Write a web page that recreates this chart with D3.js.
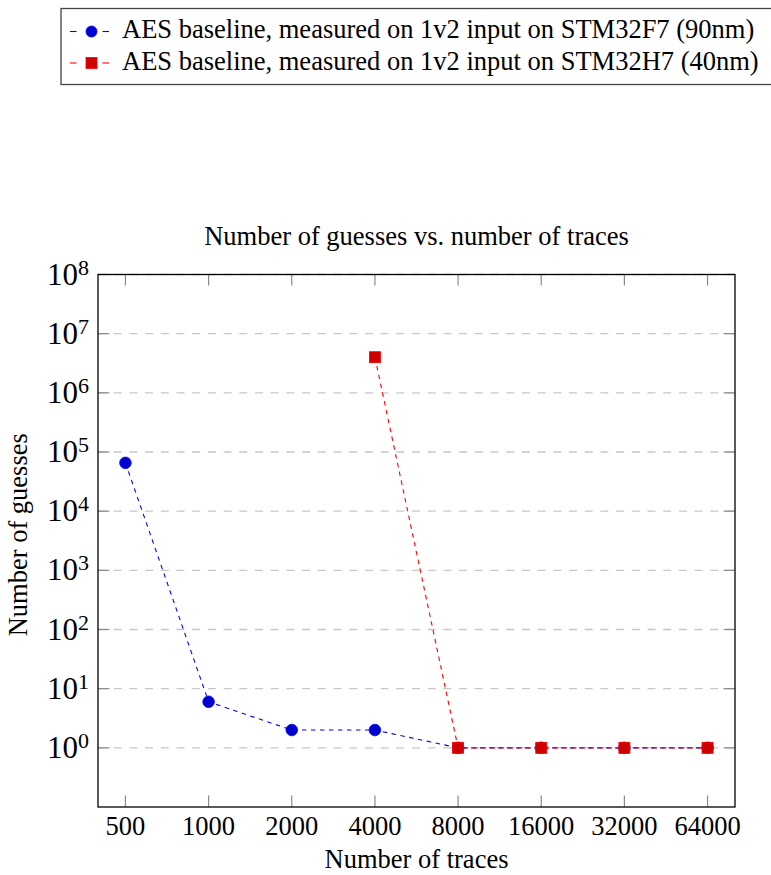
<!DOCTYPE html>
<html>
<head>
<meta charset="utf-8">
<script src="https://cdn.jsdelivr.net/npm/d3@7"></script>
<style>
  html, body { margin: 0; padding: 0; background: #fff; }
  svg { display: block; }
  text { font-family: "Liberation Serif", "Times New Roman", serif; fill: #000; }
</style>
</head>
<body>
<svg id="chart" width="771" height="875"></svg>
<script>
// ---- data ----
const categories = ["500", "1000", "2000", "4000", "8000", "16000", "32000", "64000"];
const seriesF7 = [65536, 6, 2, 2, 1, 1, 1, 1];          // STM32F7, per category
const seriesH7Cats = ["4000", "8000", "16000", "32000", "64000"];
const seriesH7 = [4000000, 1, 1, 1, 1];                  // STM32H7
const yTickExps = [0, 1, 2, 3, 4, 5, 6, 7, 8];
const legendLabels = [
  "AES baseline, measured on 1v2 input on STM32F7 (90nm)",
  "AES baseline, measured on 1v2 input on STM32H7 (40nm)"
];
const titleText = "Number of guesses vs. number of traces";
const xLabelText = "Number of traces";
const yLabelText = "Number of guesses";

// ---- layout ----
const L = 98, R = 735, T = 274.5, B = 807;
const svg = d3.select("#chart");

const x = d3.scalePoint().domain(categories).range([L, R]).padding(0.33);
const y = d3.scaleLog().domain([0.1, 1e8]).range([B, T]);

const blueLine = "#0000ff", blueFill = "#0000cc";
const redLine = "#ff0000", redFill = "#cc0000";

// grid
svg.append("g").selectAll("line").data(yTickExps).join("line")
  .attr("x1", L).attr("x2", R)
  .attr("y1", d => y(Math.pow(10, d))).attr("y2", d => y(Math.pow(10, d)))
  .attr("stroke", "#c8c8c8").attr("stroke-width", 1.3)
  .attr("stroke-dasharray", "8,7.7");

// ticks (inward, gray) - x bottom & top
const tickG = svg.append("g").attr("stroke", "#8a8a8a").attr("stroke-width", 1.2);
categories.forEach(c => {
  tickG.append("line").attr("x1", x(c)).attr("x2", x(c)).attr("y1", B).attr("y2", B - 11.5);
  tickG.append("line").attr("x1", x(c)).attr("x2", x(c)).attr("y1", T).attr("y2", T + 11);
});
yTickExps.forEach(e => {
  const yy = y(Math.pow(10, e));
  tickG.append("line").attr("x1", L).attr("x2", L + 11.5).attr("y1", yy).attr("y2", yy);
  tickG.append("line").attr("x1", R).attr("x2", R - 11.5).attr("y1", yy).attr("y2", yy);
});

// frame
svg.append("rect").attr("x", L).attr("y", T).attr("width", R - L).attr("height", B - T)
  .attr("fill", "none").attr("stroke", "#000").attr("stroke-width", 1.3);

// x tick labels
svg.append("g").selectAll("text").data(categories).join("text")
  .attr("x", d => x(d)).attr("y", 835)
  .attr("text-anchor", "middle").attr("font-size", 26.5)
  .text(d => d);

// y tick labels: 10^e
const yl = svg.append("g").selectAll("text").data(yTickExps).join("text")
  .attr("x", 89).attr("y", d => y(Math.pow(10, d)) + 10)
  .attr("text-anchor", "end").attr("font-size", 31);
yl.append("tspan").text("10");
yl.append("tspan").attr("dy", -10).attr("font-size", 22).text(d => d);

// title & axis labels
svg.append("text").attr("x", (L + R) / 2).attr("y", 245).attr("text-anchor", "middle")
  .attr("font-size", 26.5).text(titleText);
svg.append("text").attr("x", (L + R) / 2).attr("y", 868).attr("text-anchor", "middle")
  .attr("font-size", 26.5).text(xLabelText);
svg.append("text").attr("transform", `translate(27,${(T + B) / 2 - 6}) rotate(-90)`)
  .attr("text-anchor", "middle").attr("font-size", 26.5).text(yLabelText);

// series
const f7 = categories.map((c, i) => ({ c, v: seriesF7[i] }));
const h7 = seriesH7Cats.map((c, i) => ({ c, v: seriesH7[i] }));
const line = d3.line().x(d => x(d.c)).y(d => y(d.v));

svg.append("path").datum(f7).attr("d", line).attr("fill", "none")
  .attr("stroke", blueLine).attr("stroke-width", 1.1).attr("stroke-dasharray", "4.5,4.5");
svg.append("g").selectAll("circle").data(f7).join("circle")
  .attr("cx", d => x(d.c)).attr("cy", d => y(d.v)).attr("r", 5.8)
  .attr("fill", blueFill).attr("stroke", blueLine).attr("stroke-width", 0.8);

svg.append("path").datum(h7).attr("d", line).attr("fill", "none")
  .attr("stroke", redLine).attr("stroke-width", 1.1).attr("stroke-dasharray", "4.5,4.5");
const sq = 11;
svg.append("g").selectAll("rect").data(h7).join("rect")
  .attr("x", d => x(d.c) - sq / 2).attr("y", d => y(d.v) - sq / 2)
  .attr("width", sq).attr("height", sq)
  .attr("fill", redFill).attr("stroke", redLine).attr("stroke-width", 0.8);

// legend
const lg = svg.append("g");
lg.append("rect").attr("x", 61).attr("y", 8.5).attr("width", 730).attr("height", 76)
  .attr("fill", "#fff").attr("stroke", "#444").attr("stroke-width", 1.3);
const legendItems = [
  { label: legendLabels[0], stroke: blueLine, fill: blueFill, shape: "circle", cy: 31.5 },
  { label: legendLabels[1], stroke: redLine, fill: redFill, shape: "square", cy: 63 }
];
legendItems.forEach(it => {
  [[70, 76.5], [102.5, 109]].forEach(([a, b]) => {
    lg.append("line").attr("x1", a).attr("x2", b).attr("y1", it.cy).attr("y2", it.cy)
      .attr("stroke", it.stroke).attr("stroke-width", 1.1);
  });
  if (it.shape === "circle") {
    lg.append("circle").attr("cx", 91.5).attr("cy", it.cy).attr("r", 5.5)
      .attr("fill", it.fill).attr("stroke", it.stroke).attr("stroke-width", 0.8);
  } else {
    lg.append("rect").attr("x", 91.5 - 5.5).attr("y", it.cy - 5.5).attr("width", 11).attr("height", 11)
      .attr("fill", it.fill).attr("stroke", it.stroke).attr("stroke-width", 0.8);
  }
  lg.append("text").attr("x", 122).attr("y", it.cy + 6.8).attr("font-size", 26.5).text(it.label);
});
</script>
</body>
</html>
